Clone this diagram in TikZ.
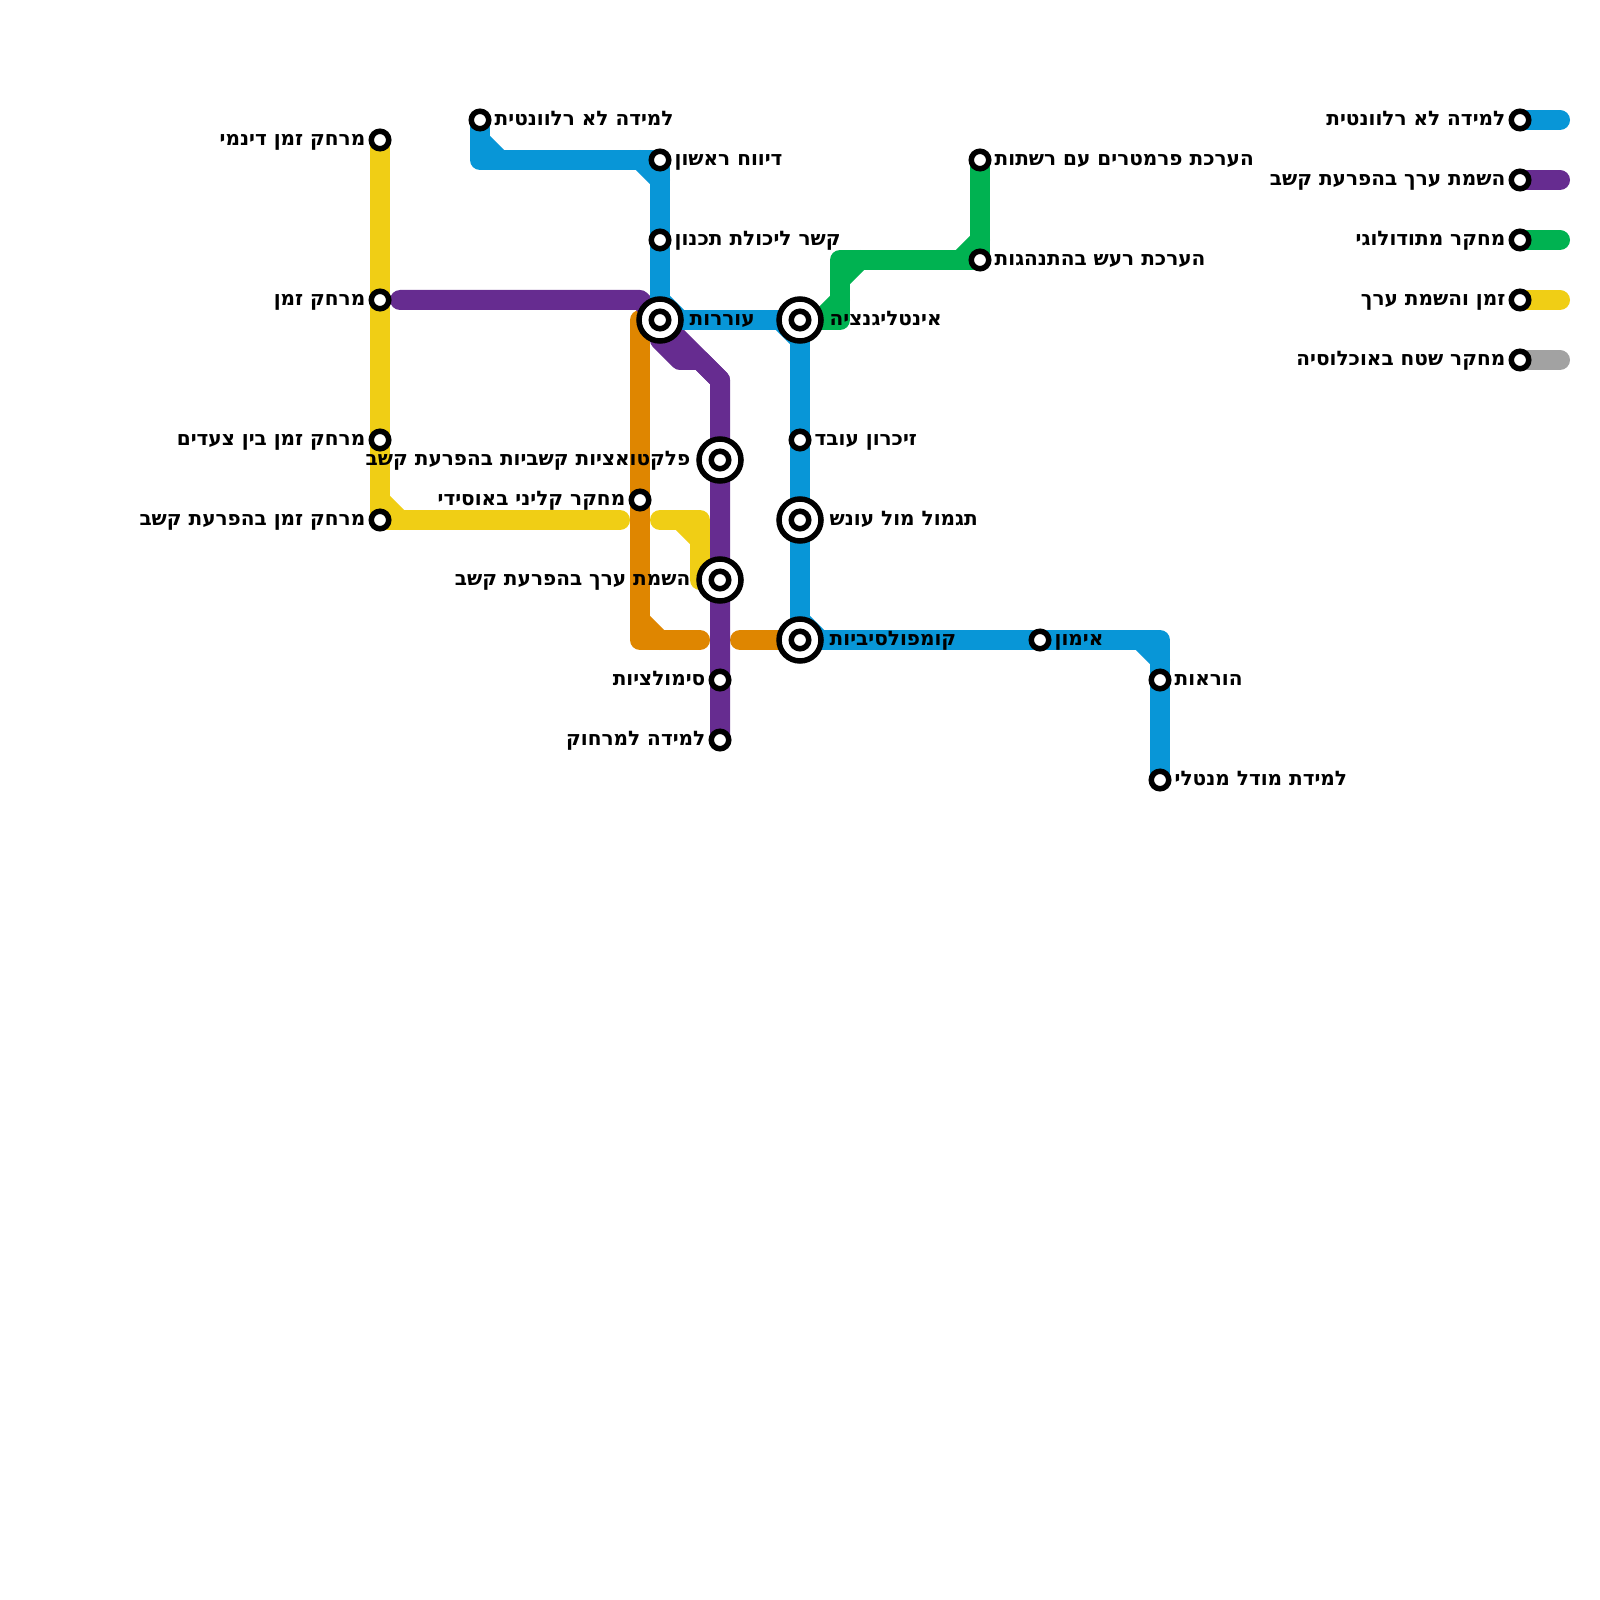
\documentclass[tikz,border=0pt]{standalone}
\usepackage{fontspec}
\usepackage{tikz}
\usetikzlibrary{positioning, calc}
\TeXXeTstate=1
\newfontfamily\hebfont[Script=Hebrew]{DejaVu Sans Bold}
\newcommand{\rtl}[1]{\beginR #1\endR}
\definecolor{lineblue}{HTML}{0896D7}
\definecolor{linepurple}{HTML}{662C90}
\definecolor{linegreen}{HTML}{00B251}
\definecolor{lineyellow}{HTML}{F0CE15}
\definecolor{lineorange}{HTML}{DF8600}
\definecolor{linegray}{HTML}{A2A2A2}
\tikzset{
  route/.style={line width=2mm, line cap=round, line join=round},
  stn/.style={circle, draw=black, fill=white, line width=0.55mm, minimum size=1.75mm, inner sep=0pt, outer sep=0pt},
  hub/.style={circle, draw=black, fill=white, line width=0.55mm, minimum size=4.2mm, inner sep=0pt, outer sep=0pt},
  lbl/.style={font=\hebfont\fontsize{5.7}{6}\selectfont, text=black, inner sep=0pt, text height=1.52mm, text depth=0.38mm},
}

\begin{document}
\begin{tikzpicture}[x=2mm, y=-2mm, node distance=0.525mm]
  \useasboundingbox (0,0) rectangle (80,80);

  % bends
  \coordinate (bYa) at (19,26);
  \coordinate (bYb) at (35,26);
  \coordinate (bYc) at (35,29);
  \coordinate (eYa) at (31,26);
  \coordinate (eYb) at (33,26);
  \coordinate (bBa) at (24,8);
  \coordinate (bBb) at (33,8);
  \coordinate (bBc) at (33,16);
  \coordinate (bBd) at (40,16);
  \coordinate (bBe) at (40,32);
  \coordinate (bBf) at (58,32);
  \coordinate (eOa) at (35,32);
  \coordinate (eOb) at (37,32);
  \coordinate (bOa) at (32,16);
  \coordinate (bOb) at (32,32);
  \coordinate (bGa) at (49,13);
  \coordinate (bGb) at (42,13);
  \coordinate (bGc) at (42,16);
  \coordinate (eUa) at (20,15);
  \coordinate (bUa) at (32,15);
  \coordinate (bUb) at (33,17);
  \coordinate (bUc) at (34,18);
  \coordinate (bUd) at (35,18);
  \coordinate (bUe) at (36,19);
  \coordinate (eLa) at (78,6);
  \coordinate (eLb) at (78,9);
  \coordinate (eLc) at (78,12);
  \coordinate (eLd) at (78,15);
  \coordinate (eLe) at (78,18);

  % stations
  \coordinate (cYa) at (19,7);
  \coordinate (cYb) at (19,15);
  \coordinate (cYc) at (19,22);
  \coordinate (cYd) at (19,26);
  \coordinate (cBa) at (24,6);
  \coordinate (cBb) at (33,8);
  \coordinate (cBc) at (33,12);
  \coordinate (cBd) at (33,16);
  \coordinate (cBe) at (40,16);
  \coordinate (cBf) at (40,22);
  \coordinate (cBg) at (40,26);
  \coordinate (cBh) at (40,32);
  \coordinate (cBi) at (52,32);
  \coordinate (cBj) at (58,34);
  \coordinate (cBk) at (58,39);
  \coordinate (cGa) at (49,8);
  \coordinate (cGb) at (49,13);
  \coordinate (cUa) at (36,23);
  \coordinate (cUb) at (36,29);
  \coordinate (cUc) at (36,34);
  \coordinate (cUd) at (36,37);
  \coordinate (cOa) at (32,25);

  % lines
  \draw[route, lineyellow] (cYa) -- (bYa) -- (eYa);
  \draw[route, lineyellow] ($(bYa)+(0,-1)$) -- ($(bYa)+(1,0)$);
  \draw[route, lineyellow] (eYb) -- (bYb) -- (bYc) -- (cUb);
  \draw[route, lineyellow] ($(bYb)+(-1,0)$) -- ($(bYb)+(0,1)$);
  \draw[route, lineorange] (cBd) -- (bOa) -- (bOb) -- (eOa);
  \draw[route, lineorange] ($(bOb)+(0,-1)$) -- ($(bOb)+(1,0)$);
  \draw[route, lineorange] (eOb) -- (cBh);
  \draw[route, linepurple] (eUa) -- (bUa) -- (cBd) -- (bUe) -- (cUd);
  \draw[route, linepurple] (cBd) -- (bUb) -- (bUc) -- (bUd) -- (bUe);
  \draw[route, lineblue] (cBa) -- (bBa) -- (bBb) -- (bBc) -- (bBd) -- (bBe) -- (bBf) -- (cBk);
  \draw[route, lineblue] ($(bBa)+(0,-1)$) -- ($(bBa)+(1,0)$);
  \draw[route, lineblue] ($(bBb)+(-1,0)$) -- ($(bBb)+(0,1)$);
  \draw[route, lineblue] ($(bBc)+(0,-1)$) -- ($(bBc)+(1,0)$);
  \draw[route, lineblue] ($(bBd)+(-1,0)$) -- ($(bBd)+(0,1)$);
  \draw[route, lineblue] ($(bBe)+(0,-1)$) -- ($(bBe)+(1,0)$);
  \draw[route, lineblue] ($(bBf)+(-1,0)$) -- ($(bBf)+(0,1)$);
  \draw[route, linegreen] (cGa) -- (bGa) -- (bGb) -- (bGc) -- (cBe);
  \draw[route, linegreen] ($(bGa)+(0,-1)$) -- ($(bGa)+(-1,0)$);
  \draw[route, linegreen] ($(bGb)+(1,0)$) -- ($(bGb)+(0,1)$);
  \draw[route, linegreen] ($(bGc)+(0,-1)$) -- ($(bGc)+(-1,0)$);

  % hubs
  \node[hub] (hBd) at (cBd) {};
  \node[hub] (hBe) at (cBe) {};
  \node[hub] (hBg) at (cBg) {};
  \node[hub] (hBh) at (cBh) {};
  \node[hub] (hUa) at (cUa) {};
  \node[hub] (hUb) at (cUb) {};

  % stops and their names
  \node[stn] (sYa) at (cYa) {};
  \node[stn] (sYb) at (cYb) {};
  \node[stn] (sYc) at (cYc) {};
  \node[stn] (sYd) at (cYd) {};
  \node[stn] (sBa) at (cBa) {};
  \node[stn] (sBb) at (cBb) {};
  \node[stn] (sBc) at (cBc) {};
  \node[stn] (sBd) at (cBd) {};
  \node[stn] (sBe) at (cBe) {};
  \node[stn] (sBf) at (cBf) {};
  \node[stn] (sBg) at (cBg) {};
  \node[stn] (sBh) at (cBh) {};
  \node[stn] (sBi) at (cBi) {};
  \node[stn] (sBj) at (cBj) {};
  \node[stn] (sBk) at (cBk) {};
  \node[stn] (sGa) at (cGa) {};
  \node[stn] (sGb) at (cGb) {};
  \node[stn] (sUa) at (cUa) {};
  \node[stn] (sUb) at (cUb) {};
  \node[stn] (sUc) at (cUc) {};
  \node[stn] (sUd) at (cUd) {};
  \node[stn] (sOa) at (cOa) {};

  \node[lbl, left=of sYa] (tYa) {\rtl{מרחק זמן דינמי}};
  \node[lbl, left=of sYb] (tYb) {\rtl{מרחק זמן}};
  \node[lbl, left=of sYc] (tYc) {\rtl{מרחק זמן בין צעדים}};
  \node[lbl, left=of sYd] (tYd) {\rtl{מרחק זמן בהפרעת קשב}};
  \node[lbl, right=of sBa] (tBa) {\rtl{למידה לא רלוונטית}};
  \node[lbl, right=of sBb] (tBb) {\rtl{דיווח ראשון}};
  \node[lbl, right=of sBc] (tBc) {\rtl{קשר ליכולת תכנון}};
  \node[lbl, right=0.8mm of hBd] (tBd) {\rtl{עוררות}};
  \node[lbl, right=0.8mm of hBe] (tBe) {\rtl{אינטליגנציה}};
  \node[lbl, right=of sBf] (tBf) {\rtl{זיכרון עובד}};
  \node[lbl, right=0.8mm of hBg] (tBg) {\rtl{תגמול מול עונש}};
  \node[lbl, right=0.8mm of hBh] (tBh) {\rtl{קומפולסיביות}};
  \node[lbl, right=of sBi] (tBi) {\rtl{אימון}};
  \node[lbl, right=of sBj] (tBj) {\rtl{הוראות}};
  \node[lbl, right=of sBk] (tBk) {\rtl{למידת מודל מנטלי}};
  \node[lbl, right=of sGa] (tGa) {\rtl{הערכת פרמטרים עם רשתות}};
  \node[lbl, right=of sGb] (tGb) {\rtl{הערכת רעש בהתנהגות}};
  \node[lbl, left=0.8mm of hUa] (tUa) {\rtl{פלקטואציות קשביות בהפרעת קשב}};
  \node[lbl, left=0.8mm of hUb] (tUb) {\rtl{השמת ערך בהפרעת קשב}};
  \node[lbl, left=of sUc] (tUc) {\rtl{סימולציות}};
  \node[lbl, left=of sUd] (tUd) {\rtl{למידה למרחוק}};
  \node[lbl, left=of sOa] (tOa) {\rtl{מחקר קליני באוסידי}};

  % legend
  \coordinate (cLa) at (76,6);
  \coordinate (cLb) at (76,9);
  \coordinate (cLc) at (76,12);
  \coordinate (cLd) at (76,15);
  \coordinate (cLe) at (76,18);
  \draw[route, lineblue] (cLa) -- (eLa);
  \draw[route, linepurple] (cLb) -- (eLb);
  \draw[route, linegreen] (cLc) -- (eLc);
  \draw[route, lineyellow] (cLd) -- (eLd);
  \draw[route, linegray] (cLe) -- (eLe);
  \node[stn] (sLa) at (cLa) {};
  \node[stn] (sLb) at (cLb) {};
  \node[stn] (sLc) at (cLc) {};
  \node[stn] (sLd) at (cLd) {};
  \node[stn] (sLe) at (cLe) {};
  \node[lbl, left=of sLa] (tLa) {\rtl{למידה לא רלוונטית}};
  \node[lbl, left=of sLb] (tLb) {\rtl{השמת ערך בהפרעת קשב}};
  \node[lbl, left=of sLc] (tLc) {\rtl{מחקר מתודולוגי}};
  \node[lbl, left=of sLd] (tLd) {\rtl{זמן והשמת ערך}};
  \node[lbl, left=of sLe] (tLe) {\rtl{מחקר שטח באוכלוסיה}};
\end{tikzpicture}
\end{document}
